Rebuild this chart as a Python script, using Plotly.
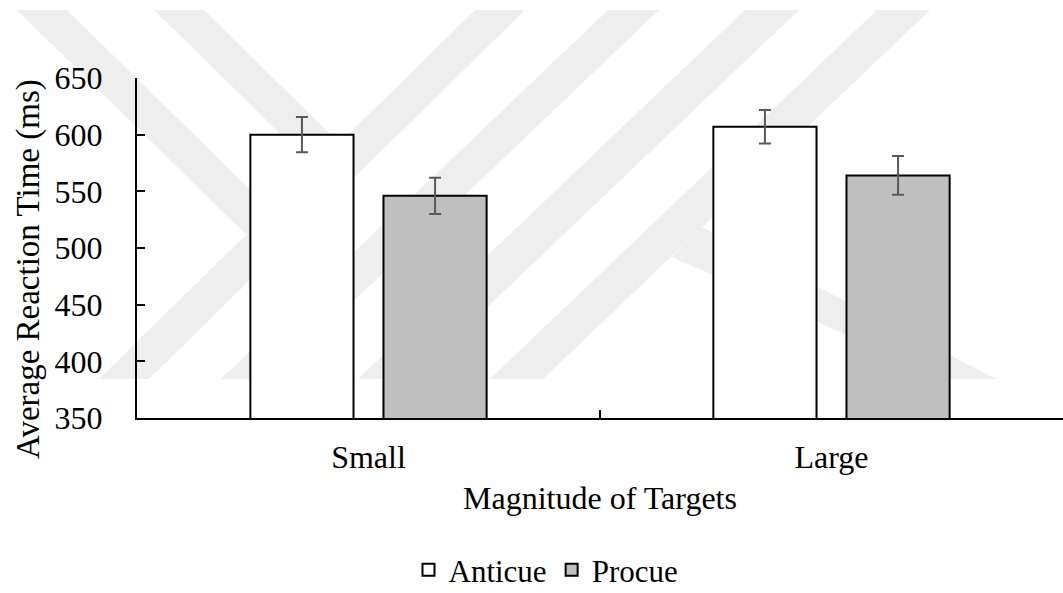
import plotly.graph_objects as go

# Mean reaction times (ms) and error bar half-widths per cue type
categories = ["Small", "Large"]
anticue_rt = [600, 607]
anticue_err = [15.5, 14.7]
procue_rt = [546, 564]
procue_err = [16.0, 17.1]
y_ticks = [350, 400, 450, 500, 550, 600, 650]

FONT = "Liberation Serif, Times New Roman, serif"
FS = 32
W, H = 1063, 593
L, R, T, B = 137, 0, 78, 175
PW, PH = W - L - R, H - T - B


def px(x, y):
    """Pixel position on the page -> paper coordinates."""
    return (x - L) / PW, (H - B - y) / PH


def poly(points):
    pts = [px(x, y) for x, y in points]
    d = "M " + " L ".join(f"{a:.4f},{b:.4f}" for a, b in pts) + " Z"
    return dict(type="path", path=d, xref="paper", yref="paper",
                fillcolor="#eeeeee", line=dict(width=0), layer="below")


# Faint striped background emblem
emblem = [
    [(17, 10), (67, 10), (271, 210), (246, 234.5)],
    [(154, 10), (204, 10), (339, 143), (314, 167)],
    [(475, 10), (525, 10), (149, 379), (99, 379)],
    [(608, 10), (659, 10), (272, 379), (221, 379)],
    [(745, 10), (799, 10), (412, 379), (358, 379)],
    [(877, 10), (930, 10), (543, 379), (490, 379)],
    [(702, 227), (996, 379), (945, 379), (672, 257)],
]

err_style = dict(type="data", thickness=2, width=6, color="#595959")
txt = dict(family=FONT, size=FS, color="black")

fig = go.Figure()
fig.add_trace(go.Bar(
    name="Anticue", x=categories, y=anticue_rt,
    error_y=dict(array=anticue_err, **err_style),
    marker=dict(color="white", line=dict(color="black", width=2)),
))
fig.add_trace(go.Bar(
    name="Procue", x=categories, y=procue_rt,
    error_y=dict(array=procue_err, **err_style),
    marker=dict(color="#bfbfbf", line=dict(color="black", width=2)),
))

fig.update_layout(
    width=W, height=H,
    margin=dict(l=L, r=R, t=T, b=B, pad=0, autoexpand=False),
    paper_bgcolor="white", plot_bgcolor="rgba(0,0,0,0)",
    barmode="group", bargap=0.425, bargroupgap=0.225,
    font=txt,
    shapes=[poly(p) for p in emblem],
    showlegend=True,
    legend=dict(orientation="h", x=px(546, 0)[0], xanchor="center",
                y=px(0, 570)[1], yanchor="middle",
                font=dict(family=FONT, size=31, color="black"),
                itemwidth=30, bgcolor="rgba(0,0,0,0)"),
    xaxis=dict(
        showline=True, linecolor="black", linewidth=2,
        ticks="inside", tickson="boundaries", ticklen=8, tickwidth=2, tickcolor="black",
        showgrid=False, zeroline=False, ticklabelstandoff=10,
        tickfont=txt,
        title=dict(text="Magnitude of Targets", standoff=12, font=txt),
    ),
    yaxis=dict(
        range=[350, 650], tickvals=y_ticks,
        showline=True, linecolor="black", linewidth=2,
        ticks="inside", ticklen=8, tickwidth=2, tickcolor="black",
        showgrid=False, zeroline=False, ticklabelstandoff=26,
        tickfont=txt,
    ),
    annotations=[dict(
        text="Average Reaction Time (ms)", textangle=-90,
        xref="paper", yref="paper", x=px(28, 0)[0], y=px(0, 269)[1],
        xanchor="center", yanchor="middle", showarrow=False,
        font=dict(family=FONT, size=33, color="black"),
    )],
)

fig.write_html("out.html")
